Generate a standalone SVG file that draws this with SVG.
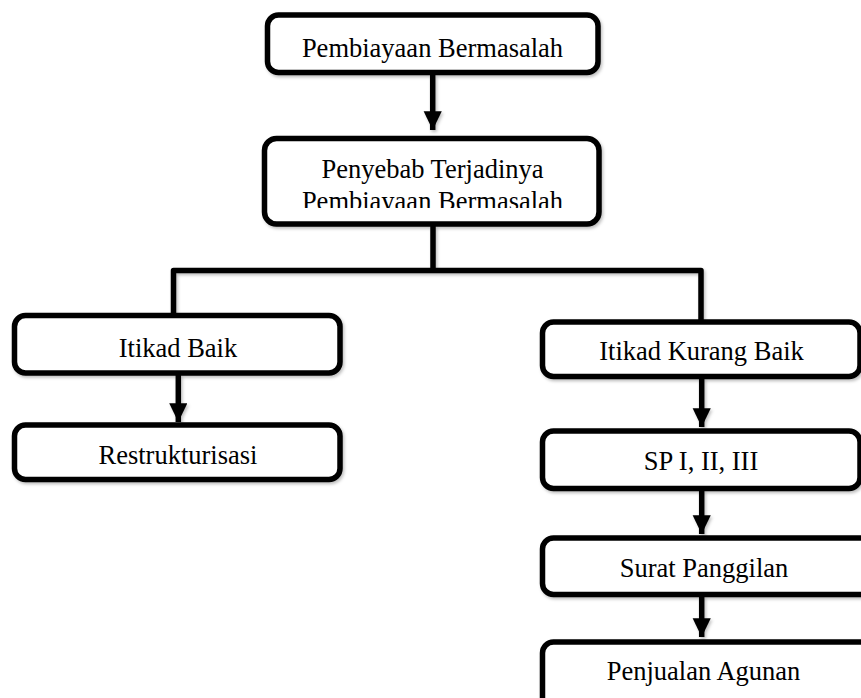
<svg xmlns="http://www.w3.org/2000/svg" width="861" height="698" viewBox="0 0 861 698">
<style>
.box{fill:#fff;stroke:#000;stroke-width:5.5;filter:url(#sh)}
.lbl{font-family:"Liberation Serif","Times New Roman",serif;font-size:26.5px;fill:#000;text-anchor:middle}
.ln{fill:none;stroke:#000;stroke-width:5.5;stroke-linejoin:round}
</style>
<defs>
<filter id="sh" filterUnits="userSpaceOnUse" x="0" y="0" width="861" height="698">
<feDropShadow dx="1.5" dy="2" stdDeviation="1.8" flood-color="#000" flood-opacity="0.25"/>
</filter>
<marker id="ah" markerWidth="3.3" markerHeight="3.4" refX="3.4" refY="1.65" orient="auto" markerUnits="strokeWidth">
<path d="M0,0 L3.4,1.65 L0,3.3 z" fill="#000"/>
</marker>
<clipPath id="c2"><rect x="262" y="136" width="340" height="72"/></clipPath>
</defs>
<rect width="861" height="698" fill="#fff"/>
<g id="connectors" filter="url(#sh)">
<line class="ln" x1="432.7" y1="75" x2="432.7" y2="130" marker-end="url(#ah)"/>
<polyline class="ln" points="433,226 433,270.5"/>
<polyline class="ln" points="173.5,315 173.5,270.5 701,270.5 701,321"/>
<line class="ln" x1="178.3" y1="375" x2="178.3" y2="422" marker-end="url(#ah)"/>
<line class="ln" x1="701.7" y1="378" x2="701.7" y2="427" marker-end="url(#ah)"/>
<line class="ln" x1="701.7" y1="490" x2="701.7" y2="534" marker-end="url(#ah)"/>
<line class="ln" x1="701.7" y1="596" x2="701.7" y2="637" marker-end="url(#ah)"/>
</g>
<g id="n1">
<rect class="box" x="267.5" y="15" width="330.5" height="57.5" rx="11"/>
<text class="lbl" x="432.5" y="57">Pembiayaan Bermasalah</text>
</g>
<g id="n2">
<rect class="box" x="264.5" y="138.5" width="334.5" height="85.5" rx="12"/>
<g clip-path="url(#c2)">
<text class="lbl" x="432.5" y="177.5">Penyebab Terjadinya</text>
<text class="lbl" x="432.5" y="210">Pembiayaan Bermasalah</text>
</g>
</g>
<g id="n3">
<rect class="box" x="14.5" y="315.5" width="325.5" height="57.5" rx="11"/>
<text class="lbl" x="178" y="357">Itikad Baik</text>
</g>
<g id="n4">
<rect class="box" x="14.5" y="425" width="325.5" height="54.5" rx="11"/>
<text class="lbl" x="178" y="464">Restrukturisasi</text>
</g>
<g id="n5">
<rect class="box" x="542.5" y="322" width="317.5" height="54.5" rx="11"/>
<text class="lbl" x="701.5" y="360">Itikad Kurang Baik</text>
</g>
<g id="n6">
<rect class="box" x="542.5" y="431" width="317.5" height="57.5" rx="11"/>
<text class="lbl" x="701" y="470">SP I, II, III</text>
</g>
<g id="n7">
<rect class="box" x="542.5" y="538" width="340" height="56.5" rx="11"/>
<text class="lbl" x="704" y="577">Surat Panggilan</text>
</g>
<g id="n8">
<rect class="box" x="542.5" y="642" width="340" height="70" rx="11"/>
<text class="lbl" x="703.5" y="680">Penjualan Agunan</text>
</g>
</svg>
